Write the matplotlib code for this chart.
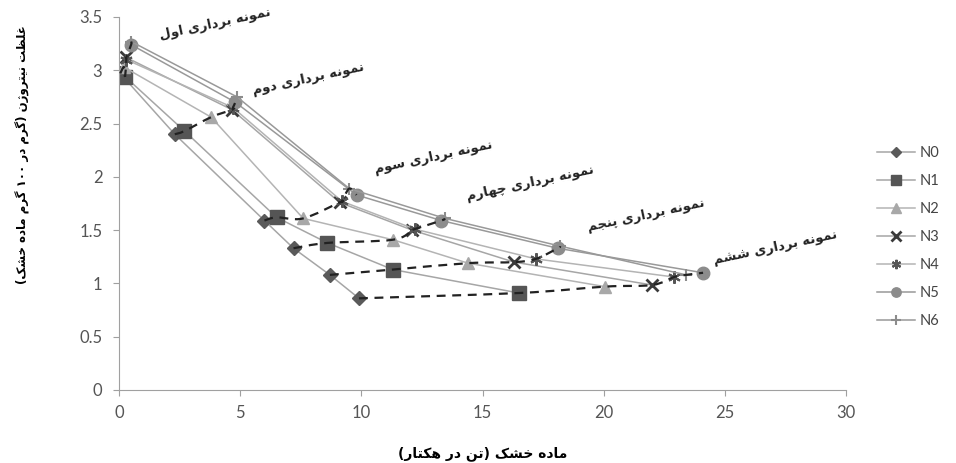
import re
import matplotlib
matplotlib.use('Agg')
import matplotlib.pyplot as plt
from matplotlib.path import Path
import matplotlib.patches as mpatches

# data: dry matter (t/ha) vs N concentration (%) at six samplings
names = ['N0', 'N1', 'N2', 'N3', 'N4', 'N5', 'N6']
dm = {
    'N0': [0.05, 2.3, 6.0, 7.2, 8.7, 9.9],
    'N1': [0.25, 2.7, 6.5, 8.6, 11.3, 16.5],
    'N2': [0.2, 3.8, 7.6, 11.3, 14.4, 20.05],
    'N3': [0.3, 4.66, 9.1, 12.1, 16.3, 22.0],
    'N4': [0.3, 4.7, 9.2, 12.2, 17.2, 22.9],
    'N5': [0.5, 4.8, 9.8, 13.3, 18.1, 24.1],
    'N6': [0.5, 4.87, 9.5, 13.45, 18.2, 23.4],
}
nc = {
    'N0': [2.97, 2.40, 1.59, 1.33, 1.08, 0.86],
    'N1': [2.94, 2.43, 1.62, 1.38, 1.13, 0.91],
    'N2': [3.03, 2.56, 1.61, 1.41, 1.19, 0.97],
    'N3': [3.12, 2.63, 1.76, 1.50, 1.20, 0.985],
    'N4': [3.10, 2.65, 1.77, 1.51, 1.23, 1.06],
    'N5': [3.24, 2.70, 1.83, 1.59, 1.33, 1.10],
    'N6': [3.27, 2.75, 1.89, 1.61, 1.35, 1.08],
}
samplings = ['نمونه برداری اول', 'نمونه برداری دوم', 'نمونه برداری سوم',
             'نمونه برداری چهارم', 'نمونه برداری پنجم', 'نمونه برداری ششم']
label_pos = [(3.98, 3.44), (7.8, 2.92), (12.96, 2.19),
             (16.96, 1.94), (21.75, 1.64), (27.1, 1.34)]
xlabel = 'ماده خشک (تن در هکتار)'
ylabel = 'غلظت نیتروژن (گرم در ۱۰۰ گرم ماده خشک)'

# minimal persian shaping (matplotlib has no RTL/joining support)
FORMS = {
    'ا': ('\uFE8D', '\uFE8E', None, None),
    'ب': ('\uFE8F', '\uFE90', '\uFE91', '\uFE92'),
    'پ': ('\uFB56', '\uFB57', '\uFB58', '\uFB59'),
    'ت': ('\uFE95', '\uFE96', '\uFE97', '\uFE98'),
    'ج': ('\uFE9D', '\uFE9E', '\uFE9F', '\uFEA0'),
    'چ': ('\uFB7A', '\uFB7B', '\uFB7C', '\uFB7D'),
    'خ': ('\uFEA5', '\uFEA6', '\uFEA7', '\uFEA8'),
    'د': ('\uFEA9', '\uFEAA', None, None),
    'ر': ('\uFEAD', '\uFEAE', None, None),
    'ز': ('\uFEAF', '\uFEB0', None, None),
    'ژ': ('\uFB8A', '\uFB8B', None, None),
    'س': ('\uFEB1', '\uFEB2', '\uFEB3', '\uFEB4'),
    'ش': ('\uFEB5', '\uFEB6', '\uFEB7', '\uFEB8'),
    'ظ': ('\uFEC5', '\uFEC6', '\uFEC7', '\uFEC8'),
    'غ': ('\uFECD', '\uFECE', '\uFECF', '\uFED0'),
    'ک': ('\uFB8E', '\uFB8F', '\uFB90', '\uFB91'),
    'گ': ('\uFB92', '\uFB93', '\uFB94', '\uFB95'),
    'ل': ('\uFEDD', '\uFEDE', '\uFEDF', '\uFEE0'),
    'م': ('\uFEE1', '\uFEE2', '\uFEE3', '\uFEE4'),
    'ن': ('\uFEE5', '\uFEE6', '\uFEE7', '\uFEE8'),
    'ه': ('\uFEE9', '\uFEEA', '\uFEEB', '\uFEEC'),
    'و': ('\uFEED', '\uFEEE', None, None),
    'ی': ('\uFBFC', '\uFBFD', '\uFBFE', '\uFBFF'),
}


def shape(text):
    out = []
    for i, c in enumerate(text):
        if c not in FORMS:
            out.append(c)
            continue
        prev = text[i - 1] if i > 0 else None
        nxt = text[i + 1] if i + 1 < len(text) else None
        jp = prev in FORMS and FORMS[prev][2] is not None
        jn = nxt in FORMS and FORMS[c][2] is not None
        iso, fin, ini, med = FORMS[c]
        out.append(med if jp and jn else fin if jp else ini if jn else iso)
    return ''.join(out)


def rtl(text):
    runs = re.findall(r'[0-9\u06F0-\u06F9]+|[^0-9\u06F0-\u06F9]', shape(text))
    mirror = {'(': ')', ')': '('}
    return ''.join(mirror.get(r, r) for r in runs[::-1])


def smooth_path(xs, ys):
    # catmull-rom style smoothing like excel's smoothed line
    pts = list(zip(xs, ys))
    verts = [pts[0]]
    codes = [Path.MOVETO]
    for i in range(len(pts) - 1):
        p0 = pts[i - 1] if i > 0 else pts[i]
        p1, p2 = pts[i], pts[i + 1]
        p3 = pts[i + 2] if i + 2 < len(pts) else pts[i + 1]
        c1 = (p1[0] + (p2[0] - p0[0]) / 6, p1[1] + (p2[1] - p0[1]) / 6)
        c2 = (p2[0] - (p3[0] - p1[0]) / 6, p2[1] - (p3[1] - p1[1]) / 6)
        verts += [c1, c2, p2]
        codes += [Path.CURVE4] * 3
    return Path(verts, codes)


styles = {
    'N0': dict(marker='D', ms=7, mfc='#5a5a5a', mec='#5a5a5a', color='#a6a6a6'),
    'N1': dict(marker='s', ms=9.5, mfc='#555555', mec='#555555', color='#a6a6a6'),
    'N2': dict(marker='^', ms=9, mfc='#a8a8a8', mec='#a8a8a8', color='#b4b4b4'),
    'N3': dict(marker='x', ms=9, mew=2, mfc='#3a3a3a', mec='#3a3a3a', color='#a6a6a6'),
    'N4': dict(marker=(6, 2, 0), ms=9, mew=1.5, mfc='#555555', mec='#555555', color='#b4b4b4'),
    'N5': dict(marker='o', ms=9, mfc='#8c8c8c', mec='#8c8c8c', color='#999999'),
    'N6': dict(marker='+', ms=9, mew=1.5, mfc='#8c8c8c', mec='#8c8c8c', color='#999999'),
}

fig = plt.figure(figsize=(9.56, 4.63), dpi=100)
ax = fig.add_axes([0.1245, 0.1577, 0.7605, 0.8056])

for n in names:
    st = dict(styles[n])
    ax.plot(dm[n], nc[n], lw=1.1, label=n, zorder=2, **st)

# dashed curves joining the treatments within one sampling
for k in range(len(samplings)):
    pts = sorted((dm[n][k], nc[n][k]) for n in names)
    path = smooth_path([p[0] for p in pts], [p[1] for p in pts])
    ax.add_patch(mpatches.PathPatch(path, fill=False, ec='#222222', lw=1.6,
                                    ls=(0, (4, 3)), zorder=4))

for txt, (x, y) in zip(samplings, label_pos):
    ax.text(x, y, rtl(txt), ha='center', va='center', rotation=12,
            fontsize=9.5, fontweight='bold', family='DejaVu Sans', color='#222222')

ax.set_xlim(0, 30)
ax.set_ylim(0, 3.5)
ax.set_xticks(range(0, 31, 5))
ax.set_yticks([0, 0.5, 1, 1.5, 2, 2.5, 3, 3.5])
ax.set_yticklabels(['0', '0.5', '1', '1.5', '2', '2.5', '3', '3.5'])
for s in ['top', 'right']:
    ax.spines[s].set_visible(False)
for s in ['left', 'bottom']:
    ax.spines[s].set_color('#a0a0a0')
ax.tick_params(direction='out', length=4, color='#a0a0a0', labelcolor='#555555',
               labelsize=12)
for lab in ax.get_xticklabels() + ax.get_yticklabels():
    lab.set_family('Lato')
ax.tick_params(axis='x', pad=7)
ax.tick_params(axis='y', pad=8)

ax.set_xlabel(rtl(xlabel), fontsize=10, fontweight='bold', family='DejaVu Sans',
              labelpad=18)
ax.set_ylabel(rtl(ylabel), fontsize=8.5, fontweight='bold', family='DejaVu Sans')
ax.yaxis.set_label_coords(-0.122, 0.63)

leg = ax.legend(loc='center left', bbox_to_anchor=(1.025, 0.41), frameon=False,
                handlelength=2.6, labelspacing=0.95, markerscale=0.75,
                handletextpad=0.3, prop={'family': 'Lato', 'size': 10.5})
for t in leg.get_texts():
    t.set_color('#444444')

fig.savefig('out.png', dpi=100)
